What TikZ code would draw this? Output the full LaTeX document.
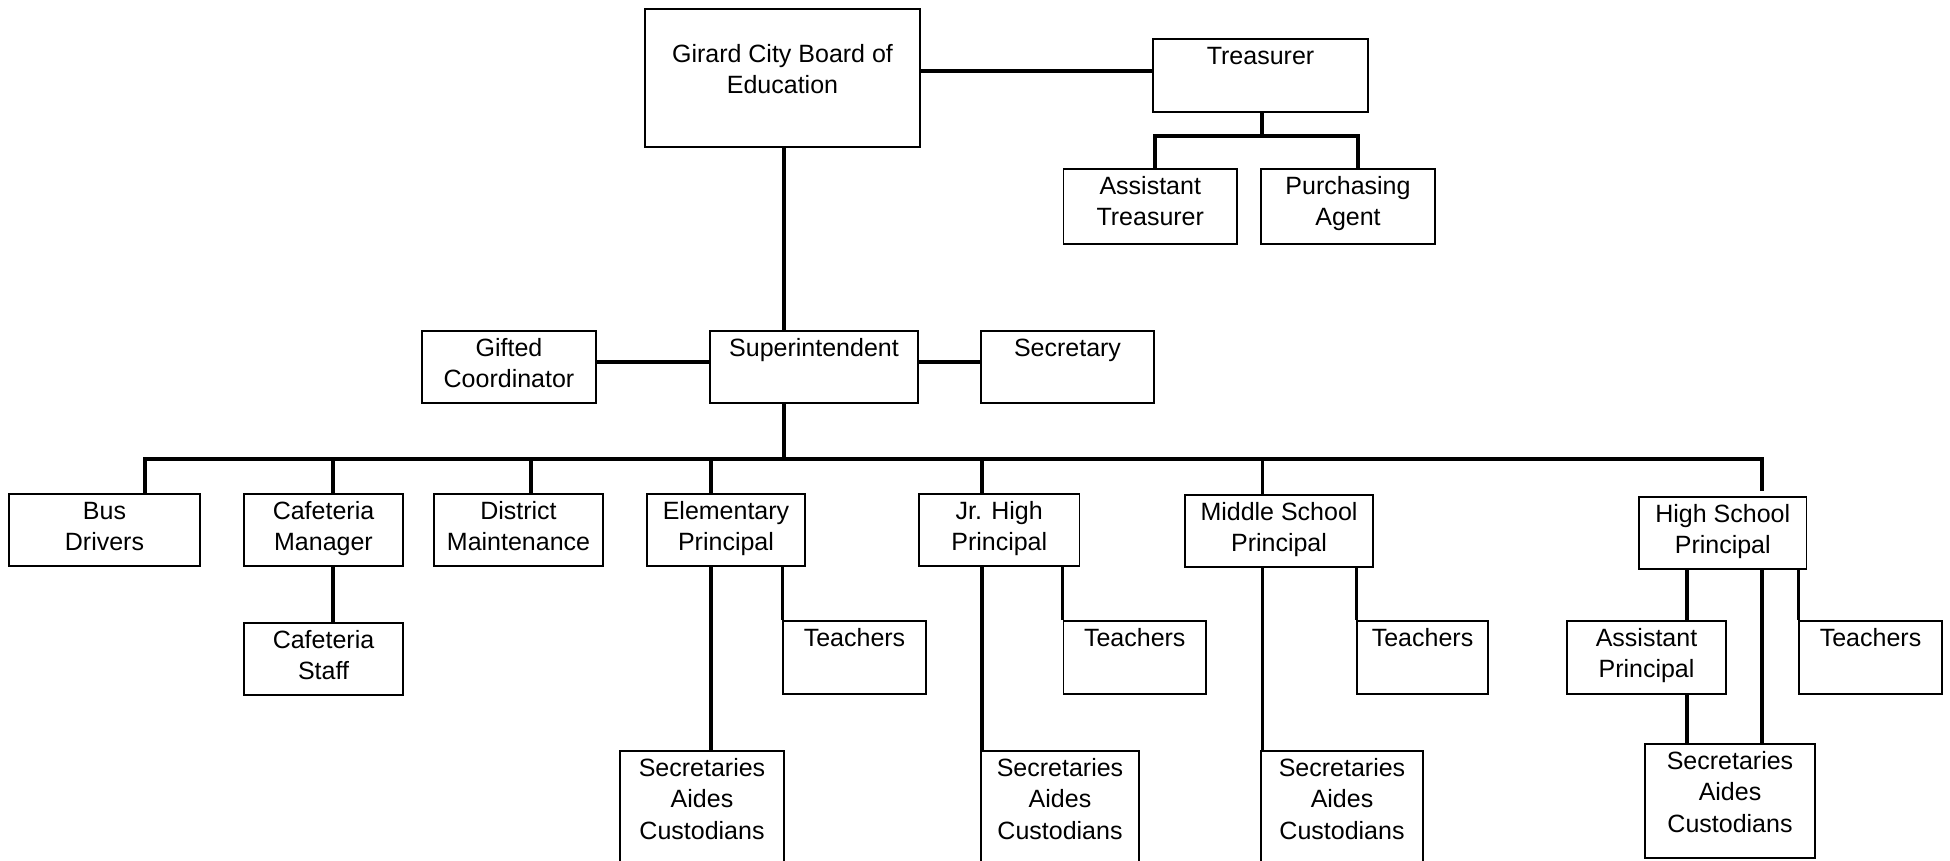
\documentclass[tikz,border=0pt]{standalone}
\usepackage{fontspec}
\setmainfont{Liberation Sans}
\usetikzlibrary{calc}
\newcommand\fs{\fontsize{25}{31.5}\selectfont}
\tikzset{
  box/.style={draw=black, line width=1.5pt, rectangle, inner sep=0pt, fill=white},
  txt/.style={font=\fs, align=center, inner sep=0pt, anchor=north, text=black},
  conn/.style={draw=black, line width=3.2pt, line join=miter}
}
% name, x1, y1, x2, y2, text
\newcommand\orgbox[6]{%
  \node[box, minimum width={#4-#2}, minimum height={#5-#3}] (#1) at ({(#2+#4)/2},{(#3+#5)/2}) {};
  \node[txt] (#1-t) at ({(#2+#4)/2},{#3+25-22.05}) {#6};
}
\begin{document}
\begin{tikzpicture}[x=1pt, y=-1pt]
\path[use as bounding box, clip] (0,0) rectangle (1950,860);
\fill[white] (0,0) rectangle (1950,860);

% junction coordinates
\coordinate (by) at (1000,71);
\coordinate (tbar) at (1262,136);
\coordinate (tl) at (1155,136);
\coordinate (tr) at (1358,136);
\coordinate (sy) at (784,362);
\coordinate (sj) at (784,459);
\coordinate (bl) at (145,459);
\coordinate (br) at (1762,459);
\coordinate (dc) at (333,459);
\coordinate (dd) at (531,459);
\coordinate (de) at (711,459);
\coordinate (dj) at (982,459);
\coordinate (dm) at (1262.5,459);
\coordinate (h1) at (1687,459);

% boxes
\node[box, minimum width=275, minimum height=138] (board) at (782.5,78) {};
\node[txt] (board-t) at (782.5,{62-22.05}) {\strut Girard City Board of\\\strut Education};
\orgbox{treas}{1153}{39}{1368}{112}{\strut Treasurer}
\orgbox{asstTreas}{1063.5}{169}{1237}{244}{\strut Assistant\\\strut Treasurer}
\orgbox{purch}{1261}{169}{1435}{244}{\strut Purchasing\\\strut Agent}
\orgbox{gifted}{422}{331}{596}{403}{\strut Gifted\\\strut Coordinator}
\orgbox{super}{710}{331}{918}{403}{\strut Superintendent}
\orgbox{secretary}{981}{331}{1154}{403}{\strut Secretary}
\orgbox{bus}{9}{494}{200}{566}{\strut Bus\\\strut Drivers}
\orgbox{cafMgr}{244}{494}{403}{566}{\strut Cafeteria\\\strut Manager}
\orgbox{cafStaff}{244}{623}{403}{695}{\strut Cafeteria\\\strut Staff}
\orgbox{dist}{434}{494}{603}{566}{\strut District\\\strut Maintenance}
\orgbox{elem}{647}{494}{805}{566}{\strut Elementary\\\strut Principal}
\orgbox{elemT}{783}{621}{926}{694}{\strut Teachers}
\orgbox{elemS}{620}{751}{784}{900}{\strut Secretaries\\\strut Aides\\\strut Custodians}
\orgbox{jr}{919}{494}{1079.5}{566}{\strut Jr. High\\\strut Principal}
\orgbox{jrT}{1063.5}{621}{1206}{694}{\strut Teachers}
\orgbox{jrS}{981}{751}{1139}{900}{\strut Secretaries\\\strut Aides\\\strut Custodians}
\orgbox{mid}{1185}{495}{1373}{567}{\strut Middle School\\\strut Principal}
\orgbox{midT}{1357}{621}{1488}{694}{\strut Teachers}
\orgbox{midS}{1261}{751}{1423}{900}{\strut Secretaries\\\strut Aides\\\strut Custodians}
\orgbox{hs}{1639}{497}{1806.5}{569}{\strut High School\\\strut Principal}
\orgbox{ap}{1567}{621}{1726}{694}{\strut Assistant\\\strut Principal}
\orgbox{hsT}{1799}{621}{1942}{694}{\strut Teachers}
\orgbox{hsS}{1645}{744}{1815}{858}{\strut Secretaries\\\strut Aides\\\strut Custodians}

% connectors
\draw[conn] (board.east |- by) -- (treas.west |- by);
\draw[conn] (treas.south -| tbar) -- (tbar);
\draw[conn] (asstTreas.north -| tl) -- (tl) -- (tr) -- (purch.north -| tr);
\draw[conn] (board.south -| sj) -- (super.north -| sj);
\draw[conn] (gifted.east |- sy) -- (super.west |- sy);
\draw[conn] (super.east |- sy) -- (secretary.west |- sy);
\draw[conn] (super.south -| sj) -- (sj);
\draw[conn] (bus.north -| bl) -- (bl) -- (br) -- ($(hs.north -| br)+(0,-5)$);
\draw[conn] (dc) -- (cafMgr.north -| dc);
\draw[conn] (cafMgr.south -| dc) -- (cafStaff.north -| dc);
\draw[conn] (dd) -- (dist.north -| dd);
\draw[conn] (de) -- (elem.north -| de);
\draw[conn] (elem.south -| de) -- (elemS.north -| de);
\draw[conn] (elem.south -| elemT.north west) -- (elemT.north west);
\draw[conn] (dj) -- (jr.north -| dj);
\draw[conn] (jr.south -| dj) -- (jrS.north -| dj);
\draw[conn] (jr.south -| jrT.north west) -- (jrT.north west);
\draw[conn] (dm) -- (mid.north -| dm);
\draw[conn] (mid.south -| dm) -- (midS.north -| dm);
\draw[conn] (mid.south -| midT.north west) -- (midT.north west);
\draw[conn] (hs.south -| h1) -- (ap.north -| h1);
\draw[conn] (ap.south -| h1) -- (hsS.north -| h1);
\draw[conn] (hs.south -| br) -- (hsS.north -| br);
\draw[conn] (hs.south -| hsT.north west) -- (hsT.north west);
\end{tikzpicture}
\end{document}
